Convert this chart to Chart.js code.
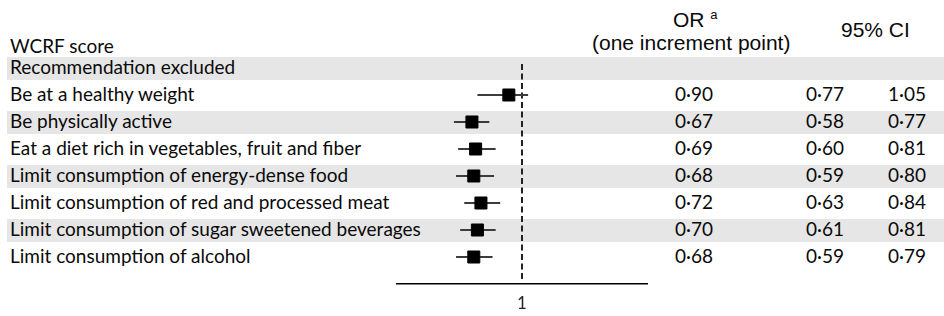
<!DOCTYPE html>
<html>
<head>
<meta charset="utf-8">
<script src="https://cdn.jsdelivr.net/npm/chart.js@4.4.0/dist/chart.umd.min.js"></script>
<style>
    body { margin: 0; background: #fff; }
    #wrap { position: relative; width: 944px; height: 316px; overflow: hidden; }
    .band { position: absolute; left: 7px; right: 0; height: 23px; background: #e6e6e6; }
    .lbl { position: absolute; left: 10px; height: 27px; line-height: 27px; font-family: Lato, sans-serif; font-size: 19px; color: #0a0a0a; white-space: nowrap; }
    .num { position: absolute; width: 80px; height: 27px; line-height: 27px; text-align: center; font-family: Lato, sans-serif; font-size: 19px; color: #0a0a0a; }
    .hdr { position: absolute; font-family: "Liberation Sans", Arial, sans-serif; font-size: 21px; color: #0a0a0a; white-space: nowrap; line-height: 24px; }
    #forest { position: absolute; left: 0; top: 0; }
</style>
</head>
<body>
<div id="wrap">
    <div id="table"></div>
    <div class="hdr" style="left:10px; top:34px; font-family: Lato, sans-serif; font-size:19px;">WCRF score</div>
    <div class="hdr" style="left:673px; top:3px;">OR <sup style="font-size:13px; vertical-align: 8px;">a</sup></div>
    <div class="hdr" style="left:592px; top:31px;">(one increment point)</div>
    <div class="hdr" style="left:841px; top:18px;">95% CI</div>
    <canvas id="forest" width="944" height="316"></canvas>
</div>
<script>
// Rows (first one is the section heading, no estimate)
const rowLabels = [
    'Recommendation excluded',
    'Be at a healthy weight',
    'Be physically active',
    'Eat a diet rich in vegetables, fruit and fiber',
    'Limit consumption of energy-dense food',
    'Limit consumption of red and processed meat',
    'Limit consumption of sugar sweetened beverages',
    'Limit consumption of alcohol'
];

// Printed estimates
const orVals = [0.90, 0.67, 0.69, 0.68, 0.72, 0.70, 0.68];
const ciLow = [0.77, 0.58, 0.60, 0.59, 0.63, 0.61, 0.59];
const ciHigh = [1.05, 0.77, 0.81, 0.80, 0.84, 0.81, 0.79];

// Whisker ends as drawn in the figure (first one is drawn longer than the printed CI)
const whiskLow = [0.70, 0.58, 0.60, 0.59, 0.63, 0.61, 0.59];
const whiskHigh = [1.05, 0.77, 0.81, 0.80, 0.84, 0.81, 0.79];

// x axis tick labels
const xTicks = [1];

const rowTop = 68, rowStep = 27;
const fmt = v => v.toFixed(2).replace('.', '·');

function buildTable() {
    const box = document.getElementById('table');
    let html = '';
    rowLabels.forEach((label, i) => {
        const cy = rowTop + rowStep * i;
        if (i % 2 === 0) html += `<div class="band" style="top:${cy - 11}px"></div>`;
        html += `<div class="lbl" style="top:${cy - 15}px">${label}</div>`;
        if (i > 0) {
            const k = i - 1;
            html += `<div class="num" style="left:654px; top:${cy - 15}px">${fmt(orVals[k])}</div>`;
            html += `<div class="num" style="left:785px; top:${cy - 15}px">${fmt(ciLow[k])}</div>`;
            html += `<div class="num" style="left:867px; top:${cy - 15}px">${fmt(ciHigh[k])}</div>`;
        }
    });
    box.innerHTML = html;
}

function initChart() {
    const ctx = document.getElementById('forest').getContext('2d');

    const squares = {
        data: orVals.map((v, i) => ({ x: v, y: i + 1 })),
        pointStyle: 'rect',
        pointRadius: 8.5,
        backgroundColor: '#000',
        borderColor: '#000',
        borderWidth: 1
    };

    const whiskers = whiskLow.map((lo, i) => ({
        data: [{ x: lo, y: i + 1 }, { x: whiskHigh[i], y: i + 1 }],
        showLine: true,
        borderColor: '#3c3c3c',
        borderWidth: 1.8,
        pointRadius: 0
    }));

    const refLine = {
        data: [{ x: 1, y: -0.15 }, { x: 1, y: 7.93 }],
        showLine: true,
        borderColor: '#222',
        borderWidth: 2,
        borderDash: [6, 3.5],
        pointRadius: 0
    };

    new Chart(ctx, {
        type: 'scatter',
        data: { datasets: [squares, ...whiskers, refLine] },
        options: {
            responsive: false,
            animation: false,
            devicePixelRatio: 1,
            layout: { padding: { left: 397, right: 297, top: 41, bottom: 0 } },
            plugins: { legend: { display: false }, tooltip: { enabled: false } },
            scales: {
                x: {
                    type: 'logarithmic',
                    min: Math.exp(-1),
                    max: Math.exp(1),
                    afterBuildTicks: s => { s.ticks = xTicks.map(v => ({ value: v })); },
                    afterFit: s => { s.height = 32; },
                    grid: { display: false, drawTicks: false },
                    border: { display: true, color: '#000', width: 1.5 },
                    ticks: {
                        padding: 9,
                        color: '#222',
                        font: { family: 'Lato', size: 17 },
                        callback: v => String(v)
                    }
                },
                y: {
                    type: 'linear',
                    min: -1,
                    max: 8,
                    reverse: true,
                    display: false
                }
            }
        }
    });
}

buildTable();
initChart();
</script>
</body>
</html>
